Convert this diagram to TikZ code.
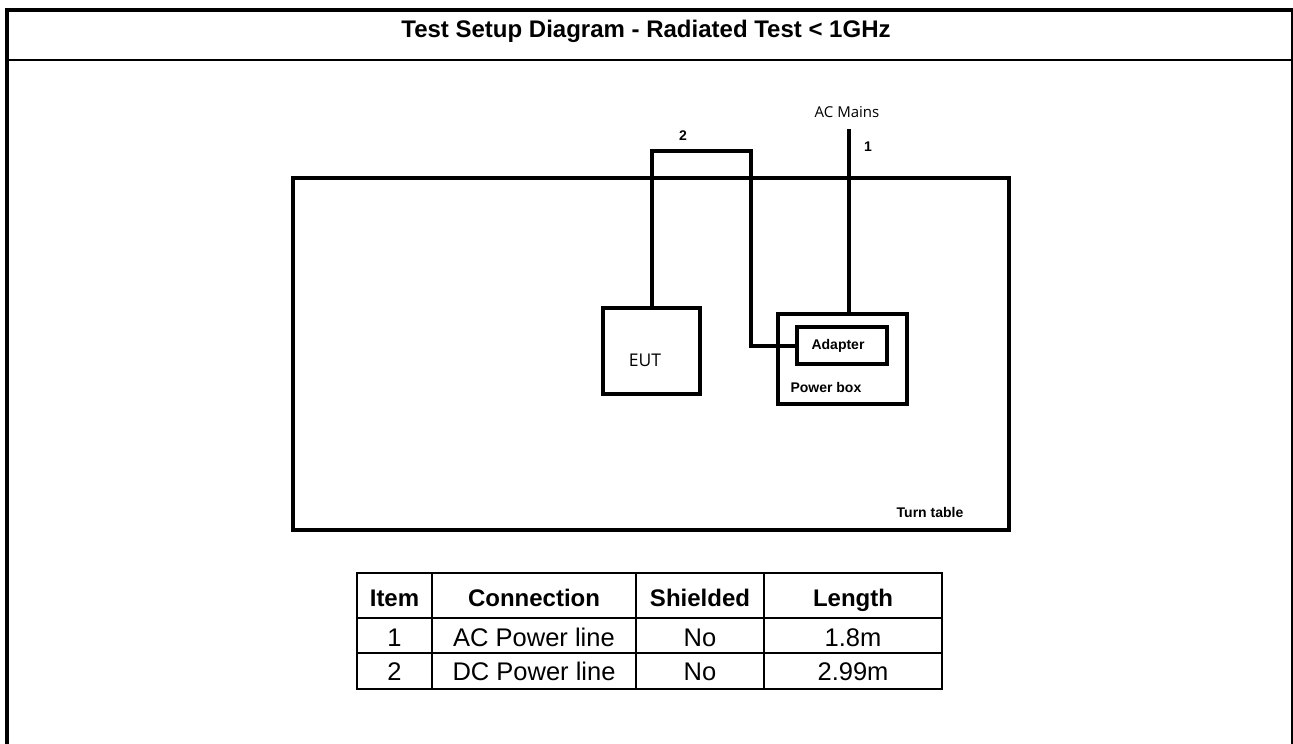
\documentclass[tikz,border=0pt]{standalone}
\usepackage{fontspec}
\setmainfont{Liberation Sans}
\newfontfamily\uifont{Open Sans}
\usetikzlibrary{positioning}
\tikzset{
  unitbox/.style={draw, line width=4pt, minimum width=#1},
  cable/.style={draw, line width=4pt},
  tag/.style={font=\bfseries\fontsize{14}{16}\selectfont},
  cell/.style={anchor=base, font=\fontsize{25.5}{28}\selectfont},
  headcell/.style={anchor=base, font=\bfseries\fontsize{24}{28}\selectfont}
}
\begin{document}
\begin{tikzpicture}[x=1pt, y=-1pt]
    \useasboundingbox (0,0) rectangle (1293,744);
    % Outer frame and title
    \draw[line width=4pt] (7,744) -- (7,10) -- (1292.5,10) -- (1292.5,744);
    \draw[line width=2pt] (7,59.5) -- (1292.5,59.5);
    \node[font=\bfseries\fontsize{24}{28}\selectfont] (title) at (646,31) {Test Setup Diagram - Radiated Test < 1GHz};

    % Turn table
    \node[unitbox=716pt, minimum height=352pt] (turntable) at (651,354) {};
    \node[tag] (turnlabel) at (930,512) {Turn table};

    % EUT and power box
    \node[unitbox=97pt, minimum height=86pt] (eut) at (651.5,351) {};
    \node[font=\uifont\fontsize{17.5}{20}\selectfont] (eutlabel) at (645,360) {EUT};
    \node[unitbox=129pt, minimum height=90pt] (powerbox) at (842.5,359) {};
    \node[unitbox=90pt, minimum height=37pt, tag] (adapter) at (842,345.5) {};
    \node[tag] (adapterlabel) at (838,346) {Adapter};
    \node[tag, anchor=west] (powerlabel) at (787,387) {Power box};

    % Cable 1: AC mains
    \coordinate (acmains) at (849,129);
    \node[font=\uifont\fontsize{15}{18}\selectfont] (aclabel) at (847,112) {AC Mains};
    \draw[cable] (acmains) -- (acmains |- powerbox.north);
    \node[tag] (one) at (868,147) {1};

    % Cable 2: DC line
    \coordinate (bend) at (751,151);
    \draw[cable] (eut.north) |- (bend) |- (adapter.west);
    \node[tag] (two) at (683,136) {2};

    % Table
    \draw[line width=2pt] (357,573) rectangle (942,689);
    \foreach \y in {618,653} \draw[line width=2pt] (357,\y) -- (942,\y);
    \foreach \x in {432,636,764} \draw[line width=2pt] (\x,573) -- (\x,689);
    \node[headcell] (hitem) at (394.5,606) {Item};
    \node[headcell] (hconn) at (534,606) {Connection};
    \node[headcell] (hshield) at (700,606) {Shielded};
    \node[headcell] (hlen) at (853,606) {Length};
    \node[cell] (item1) at (394.5,646) {1};
    \node[cell] (conn1) at (534,646) {AC Power line};
    \node[cell] (shield1) at (700,646) {No};
    \node[cell] (len1) at (853,646) {1.8m};
    \node[cell] (item2) at (394.5,680.5) {2};
    \node[cell] (conn2) at (534,680.5) {DC Power line};
    \node[cell] (shield2) at (700,680.5) {No};
    \node[cell] (len2) at (853,680.5) {2.99m};
\end{tikzpicture}
\end{document}
